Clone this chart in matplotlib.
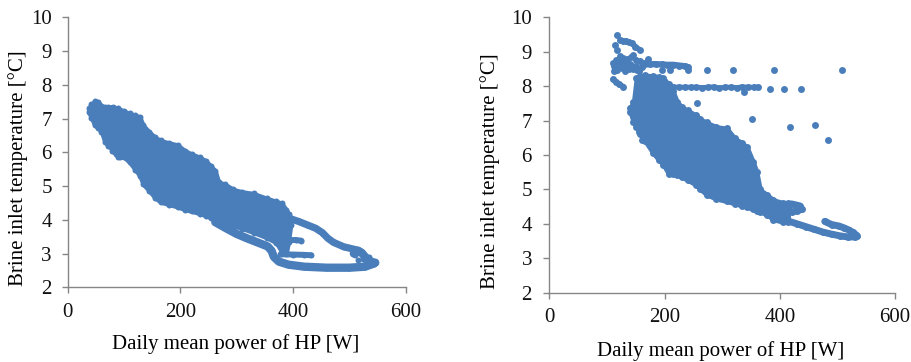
import matplotlib
matplotlib.use("Agg")
import matplotlib.pyplot as plt

plt.rcParams["font.family"] = ["Liberation Serif", "DejaVu Serif"]

BLUE = "#4a7ebb"
GREY = "#868686"

# ---------------- Site A (left) ----------------
# dense cloud envelope: power [W] vs. lower / upper brine temperature [°C]
a_core_w = [37, 42, 48, 54, 60, 66, 72, 80, 90, 100, 110, 120, 128, 134, 145, 155,
            165, 180, 195, 208, 220, 235, 245, 255, 262, 268, 280, 294, 310, 330,
            353, 370, 380, 388, 392, 396]
a_core_hi = [7.30, 7.42, 7.52, 7.50, 7.38, 7.35, 7.35, 7.35, 7.30, 7.22, 7.15, 7.10,
             7.05, 6.80, 6.60, 6.45, 6.35, 6.28, 6.22, 6.05, 5.95, 5.85, 5.75, 5.58,
             5.45, 5.12, 5.05, 4.90, 4.83, 4.78, 4.64, 4.55, 4.49, 4.30, 4.18, 4.06]
a_core_lo = [7.20, 7.02, 6.80, 6.72, 6.60, 6.30, 6.20, 6.05, 5.85, 5.85, 5.70, 5.48,
             5.30, 5.05, 4.85, 4.65, 4.52, 4.45, 4.38, 4.30, 4.25, 4.18, 4.12, 4.05,
             4.00, 3.95, 3.88, 3.82, 3.74, 3.62, 3.47, 3.32, 3.05, 3.00, 3.35, 3.85]
# lower branch running into the bottom of the loop
a_low_w = [262, 280, 300, 320, 340, 355, 362, 366, 375, 392, 420, 460, 500, 528, 543]
a_low_t = [3.93, 3.76, 3.58, 3.44, 3.31, 3.21, 3.08, 2.90, 2.76, 2.67, 2.61, 2.58,
           2.58, 2.61, 2.70]
# upper branch of the loop
a_up_w = [392, 410, 425, 440, 452, 462, 472, 490, 505, 515, 522]
a_up_t = [4.05, 3.95, 3.85, 3.75, 3.62, 3.45, 3.33, 3.20, 3.14, 3.10, 3.02]
# end of the loop at the highest loads
a_end_w = [508, 516, 522, 528, 535, 541, 546]
a_end_t = [3.00, 3.08, 3.02, 2.90, 2.80, 2.74, 2.73]
# short branches leaving the cloud
a_f1_w = [372, 390, 405, 415]
a_f1_t = [3.42, 3.40, 3.40, 3.38]
a_f2_w = [378, 400, 420, 432]
a_f2_t = [2.98, 2.97, 2.96, 2.95]
# single days
a_pts_w = [510, 520, 525, 530, 540, 545, 515, 535, 78, 85, 92, 98, 50, 55, 70]
a_pts_t = [2.95, 3.05, 2.85, 2.75, 2.72, 2.73, 2.80, 2.90, 6.05, 5.95, 5.85, 5.90,
           6.85, 6.78, 6.30]

# ---------------- Site B (right) ----------------
b_core_w = [140, 146, 151, 158, 166, 180, 190, 198, 207, 215, 222, 230, 240, 255, 262,
            273, 290, 308, 322, 335, 343, 354, 360, 366, 378, 389, 405, 415]
b_core_hi = [7.38, 7.55, 8.25, 8.30, 8.32, 8.30, 8.28, 8.25, 8.05, 7.85, 7.55, 7.40,
             7.30, 7.16, 7.05, 6.95, 6.82, 6.78, 6.49, 6.35, 6.24, 5.80, 5.52, 5.00,
             4.85, 4.70, 4.62, 4.60]
b_core_lo = [7.25, 6.95, 6.80, 6.60, 6.40, 6.05, 5.85, 5.70, 5.45, 5.45, 5.42, 5.35,
             5.27, 5.12, 5.00, 4.84, 4.72, 4.65, 4.58, 4.52, 4.48, 4.42, 4.38, 4.35,
             4.25, 4.12, 4.05, 4.05]
b_lobe_w = [420, 428, 435, 438, 430, 422, 412]
b_lobe_t = [4.58, 4.55, 4.52, 4.42, 4.38, 4.35, 4.40]
b_tail_w = [400, 415, 430, 445, 460, 475, 490, 505, 518, 530]
b_tail_t = [4.15, 4.08, 4.00, 3.92, 3.84, 3.76, 3.70, 3.65, 3.62, 3.62]
b_hook_w = [478, 490, 502, 512, 520, 527, 534]
b_hook_t = [4.07, 3.98, 3.94, 3.88, 3.82, 3.75, 3.66]
b_row86_w = [163, 175, 185, 195, 205, 215, 225, 235, 241]
b_row86_t = [8.62, 8.64, 8.64, 8.63, 8.62, 8.62, 8.60, 8.58, 8.55]
b_row80_w = [205, 215, 225, 235, 245, 255, 265, 275, 285, 295, 305, 315, 325, 335,
             345, 355, 363]
b_row80_t = [7.97, 7.98, 7.97, 7.97, 7.97, 7.97, 7.96, 7.97, 7.98, 7.95, 7.97, 7.97,
             7.96, 7.98, 7.97, 7.97, 7.97]
b_diag_w = [123, 128, 133, 138, 143, 149, 157]
b_diag_t = [9.34, 9.32, 9.30, 9.27, 9.25, 9.15, 9.05]
b_drop_w = [111, 116, 121, 128]
b_drop_t = [8.20, 8.12, 8.05, 7.99]
b_pts_w = [117, 114, 117, 111, 113, 116, 120, 125, 130, 135, 140, 145, 150, 155, 160,
           122, 128, 134, 142, 150, 158, 165, 172, 146, 118, 126, 132, 138, 144, 152,
           196, 210, 240, 273, 319, 390, 508, 383, 407, 436, 257, 352, 418, 461, 484,
           337, 160, 155, 112, 115, 120, 127, 134]
b_pts_t = [9.49, 9.20, 9.05, 8.66, 8.45, 8.55, 8.70, 8.62, 8.72, 8.58, 8.65, 8.50,
           8.60, 8.45, 8.55, 8.88, 8.82, 8.78, 8.85, 8.75, 8.72, 8.68, 8.80, 8.90,
           8.48, 8.52, 8.45, 8.50, 8.60, 8.48, 8.47, 8.48, 8.48, 8.47, 8.47, 8.47,
           8.47, 7.93, 7.93, 7.93, 7.52, 7.04, 6.82, 6.86, 6.44, 7.82, 6.44, 6.68,
           8.60, 8.75, 8.55, 8.68, 8.62]


def cloud(ax, w, lo, hi, ms):
    ax.fill_between(w, lo, hi, color=BLUE, lw=3, edgecolor=BLUE, joinstyle="round",
                    zorder=2)
    ax.scatter(w, lo, s=ms ** 2, color=BLUE, lw=0, zorder=3)
    ax.scatter(w, hi, s=ms ** 2, color=BLUE, lw=0, zorder=3)


def trace(ax, w, t, ms, lw):
    ax.plot(w, t, color=BLUE, lw=lw, marker="o", ms=ms, mew=0,
            solid_capstyle="round", solid_joinstyle="round", zorder=3)


def style(ax, xlab_x, xlab_y, ylab_x, ylab_y, ypad):
    ax.set_xlim(0, 600)
    ax.set_ylim(2, 10)
    ax.set_xticks([0, 200, 400, 600])
    ax.set_yticks(range(2, 11))
    for s in ("top", "right"):
        ax.spines[s].set_visible(False)
    for s in ("left", "bottom"):
        ax.spines[s].set_color(GREY)
        ax.spines[s].set_linewidth(1.0)
    ax.tick_params(axis="both", direction="out", length=4.5, width=1.0, color=GREY,
                   labelsize=15, labelcolor="#111111")
    ax.tick_params(axis="x", pad=6.5)
    ax.tick_params(axis="y", pad=ypad)
    ax.set_xlabel("Daily mean power of HP [W]", fontsize=15)
    ax.set_ylabel("Brine inlet temperature [°C]", fontsize=15)
    ax.xaxis.set_label_coords(xlab_x, xlab_y)
    ax.yaxis.set_label_coords(ylab_x, ylab_y)


fig = plt.figure(figsize=(9.11, 3.62), dpi=100)
ax1 = fig.add_axes([0.0743, 0.2064, 0.371, 0.7459])
ax2 = fig.add_axes([0.603, 0.1914, 0.3795, 0.7608])

ms_a = 4.3
cloud(ax1, a_core_w, a_core_lo, a_core_hi, ms_a)
trace(ax1, a_low_w, a_low_t, ms_a, 6.0)
trace(ax1, a_up_w, a_up_t, ms_a, 5.2)
trace(ax1, a_end_w, a_end_t, ms_a, 6.0)
trace(ax1, a_f1_w, a_f1_t, ms_a, 4.3)
trace(ax1, a_f2_w, a_f2_t, ms_a, 4.3)
ax1.scatter(a_pts_w, a_pts_t, s=ms_a ** 2, color=BLUE, lw=0, zorder=3)
style(ax1, 0.497, -0.175, -0.117, 0.44, 7)

ms_b = 5.0
cloud(ax2, b_core_w, b_core_lo, b_core_hi, ms_b)
trace(ax2, b_tail_w, b_tail_t, ms_b, 5.0)
trace(ax2, b_hook_w, b_hook_t, ms_b, 5.0)
trace(ax2, b_lobe_w, b_lobe_t, ms_b, 5.0)
trace(ax2, b_row86_w, b_row86_t, ms_b, 4.5)
trace(ax2, b_row80_w, b_row80_t, ms_b, 3.5)
trace(ax2, b_diag_w, b_diag_t, ms_b, 4.0)
trace(ax2, b_drop_w, b_drop_t, ms_b, 4.0)
ax2.scatter(b_pts_w, b_pts_t, s=ms_b ** 2, color=BLUE, lw=0, zorder=3)
style(ax2, 0.496, -0.175, -0.143, 0.443, 8)

fig.savefig("out.png", dpi=100)
